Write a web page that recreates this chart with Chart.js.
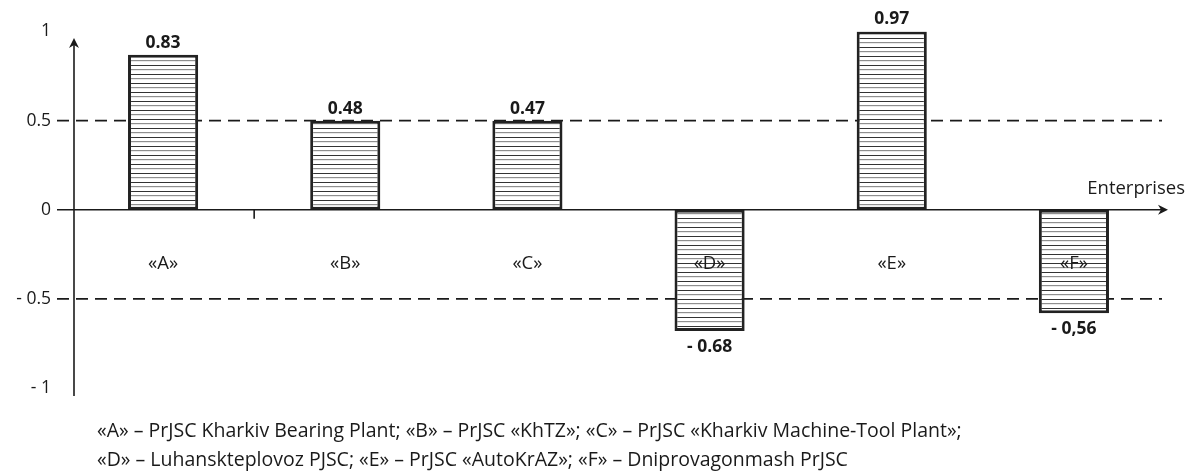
<!DOCTYPE html>
<html>
<head>
<meta charset="utf-8">
<script src="https://cdn.jsdelivr.net/npm/chart.js@4.4.1/dist/chart.umd.min.js"></script>
<style>
  body { margin: 0; background: #fff; }
  #wrap { width: 1196px; height: 475px; }
</style>
</head>
<body>
<div id="wrap"><canvas id="framus" width="1196" height="475"></canvas></div>
<script>
// enterprises and their values
const categories = ['«A»', '«B»', '«C»', '«D»', '«E»', '«F»'];
const values = [0.87, 0.50, 0.50, -0.68, 1.00, -0.58];      // bar heights as drawn
const valueLabels = ['0.83', '0.48', '0.47', '- 0.68', '0.97', '- 0,56'];
const yTicks = [-1, -0.5, 0, 0.5, 1];
const yTickLabels = ['- 1', '- 0.5', '0', '0.5', '1'];
const dashedAt = [0.5, -0.5];
const axisTitle = 'Enterprises';
const notes = [
    '«A» – PrJSC Kharkiv Bearing Plant; «B» – PrJSC «KhTZ»; «C» – PrJSC «Kharkiv Machine-Tool Plant»;',
    '«D» – Luhanskteplovoz PJSC; «E» – PrJSC «AutoKrAZ»; «F» – Dniprovagonmash PrJSC'
];

const FONT = '"Open Sans", "DejaVu Sans", sans-serif';
const INK = '#1a1a1a';

// horizontal hatching used as bar fill
function hatch() {
    const c = document.createElement('canvas');
    c.width = 8; c.height = 9;
    const g = c.getContext('2d');
    g.fillStyle = '#fff';
    g.fillRect(0, 0, 8, 9);
    g.fillStyle = '#333';
    g.fillRect(0, 2, 8, 1);
    g.fillStyle = '#8f8f8f';
    g.fillRect(0, 6, 8, 1.2);
    return g.createPattern(c, 'repeat');
}

function arrowHead(ctx, x, y, dir) {
    ctx.beginPath();
    if (dir === 'up') {
        ctx.moveTo(x, y);
        ctx.lineTo(x - 5, y + 10);
        ctx.lineTo(x, y + 7);
        ctx.lineTo(x + 5, y + 10);
    } else {
        ctx.moveTo(x, y);
        ctx.lineTo(x - 10, y - 5);
        ctx.lineTo(x - 7, y);
        ctx.lineTo(x - 10, y + 5);
    }
    ctx.closePath();
    ctx.fill();
}

const behindBars = {
    id: 'behindBars',
    beforeDatasetsDraw(chart) {
        const ctx = chart.ctx;
        const y = chart.scales.y;
        const area = chart.chartArea;
        ctx.save();
        ctx.strokeStyle = INK;
        ctx.lineWidth = 1.6;
        ctx.setLineDash([12, 7]);
        dashedAt.forEach(v => {
            const py = y.getPixelForValue(v);
            ctx.beginPath();
            ctx.moveTo(area.left - 15, py);
            ctx.lineTo(area.right - 3, py);
            ctx.stroke();
        });
        ctx.restore();
    }
};

const overlay = {
    id: 'overlay',
    afterDraw(chart) {
        const ctx = chart.ctx;
        const x = chart.scales.x;
        const y = chart.scales.y;
        const area = chart.chartArea;
        const ax = area.left + 2;
        const zero = y.getPixelForValue(0);
        ctx.save();
        ctx.strokeStyle = INK;
        ctx.fillStyle = INK;
        ctx.lineWidth = 1.6;

        // vertical axis
        ctx.beginPath();
        ctx.moveTo(ax, 44);
        ctx.lineTo(ax, y.getPixelForValue(-1) + 8);
        ctx.stroke();
        arrowHead(ctx, ax, 38, 'up');

        // horizontal axis
        ctx.beginPath();
        ctx.moveTo(area.left - 15, zero);
        ctx.lineTo(area.right, zero);
        ctx.stroke();
        arrowHead(ctx, area.right + 3, zero, 'right');

        // single category tick between A and B
        const tx = (x.getPixelForValue(0) + x.getPixelForValue(1)) / 2;
        ctx.beginPath();
        ctx.moveTo(tx, zero);
        ctx.lineTo(tx, zero + 9);
        ctx.stroke();

        ctx.font = '18.5px ' + FONT;
        ctx.textAlign = 'right';
        ctx.textBaseline = 'middle';
        ctx.fillText(axisTitle, area.right + 20, zero - 21);

        // category labels
        ctx.textAlign = 'center';
        ctx.font = '18.5px ' + FONT;
        categories.forEach((c, i) => {
            ctx.fillText(c, x.getPixelForValue(i), zero + 54);
        });

        // value labels
        ctx.font = 'bold 17.5px ' + FONT;
        const meta = chart.getDatasetMeta(0);
        meta.data.forEach((bar, i) => {
            const py = values[i] >= 0 ? bar.y - 12 : bar.y + 16;
            ctx.fillText(valueLabels[i], bar.x, py);
        });

        // key below the chart
        ctx.textAlign = 'left';
        ctx.font = '19.5px ' + FONT;
        notes.forEach((t, i) => {
            ctx.fillText(t, 97, 431 + i * 29);
        });
        ctx.restore();
    }
};

const ctx = document.getElementById('framus').getContext('2d');
new Chart(ctx, {
    type: 'bar',
    data: {
        labels: categories,
        datasets: [{
            data: values,
            backgroundColor: hatch(),
            borderColor: '#222',
            borderWidth: 3,
            borderSkipped: false,
            categoryPercentage: 1,
            barPercentage: 0.385
        }]
    },
    options: {
        responsive: false,
        animation: false,
        layout: { padding: { top: 24, bottom: 87, left: 0, right: 31 } },
        plugins: {
            legend: { display: false },
            tooltip: { enabled: false }
        },
        scales: {
            x: { display: false },
            y: {
                min: -1,
                max: 1,
                afterFit(s) { s.width = 72; },
                afterBuildTicks(s) { s.ticks = yTicks.map(v => ({ value: v })); },
                grid: { display: false, drawTicks: false },
                border: { display: false },
                ticks: {
                    padding: 21,
                    color: INK,
                    font: { family: FONT, size: 17.5 },
                    callback: v => yTickLabels[yTicks.indexOf(v)]
                }
            }
        }
    },
    plugins: [behindBars, overlay]
});
</script>
</body>
</html>
